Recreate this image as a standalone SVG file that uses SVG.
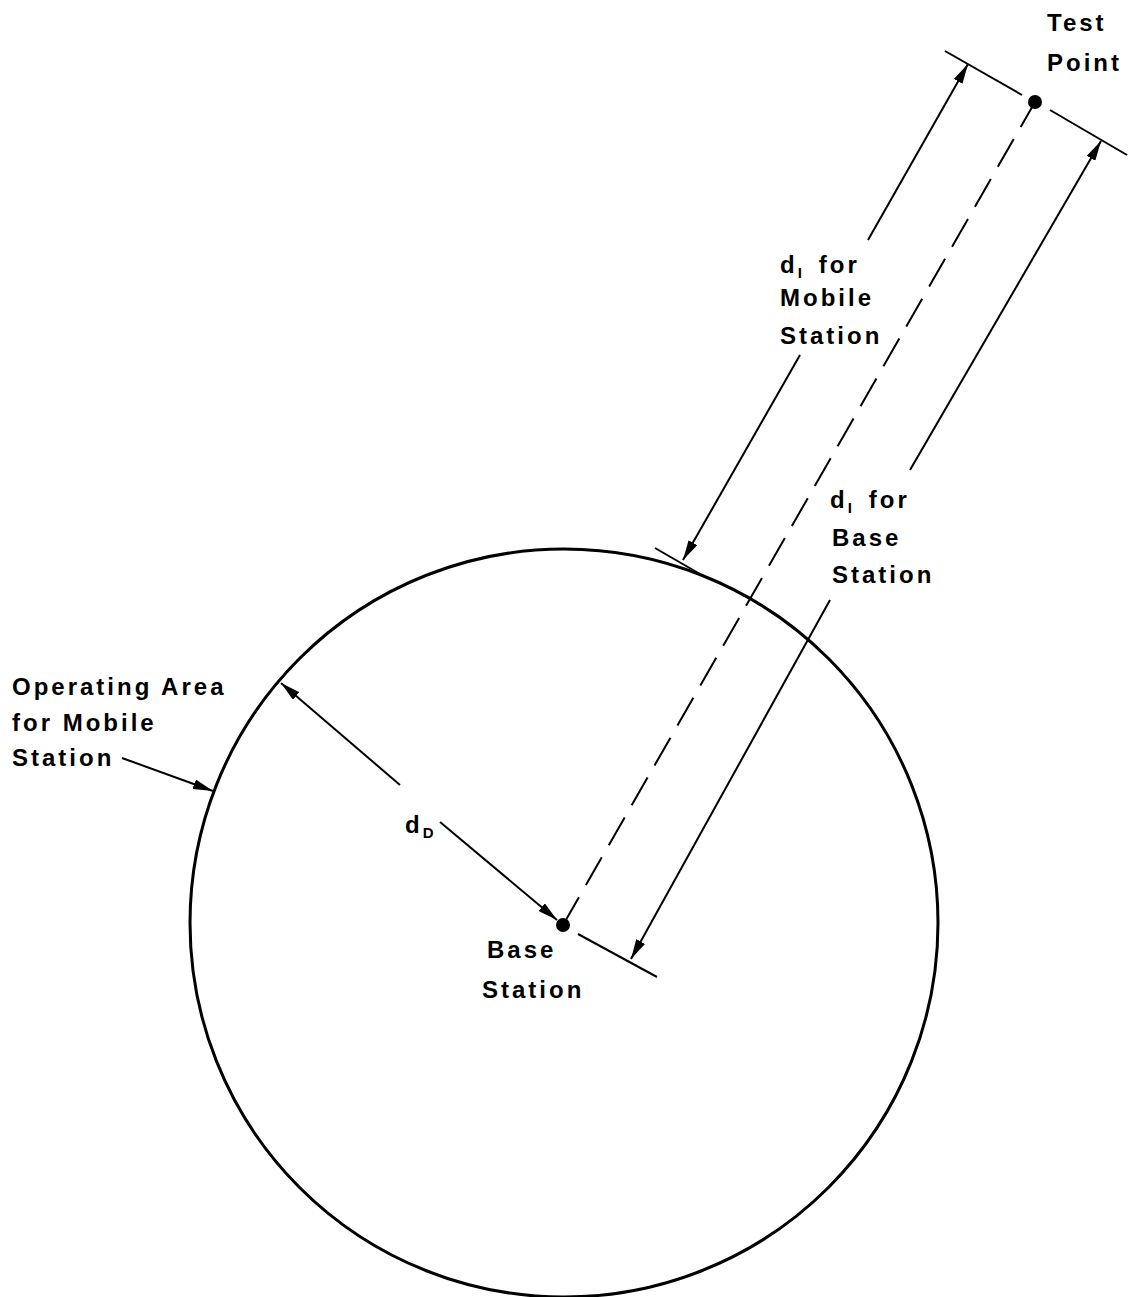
<svg xmlns="http://www.w3.org/2000/svg" width="1130" height="1297" viewBox="0 0 1130 1297">
<defs>
<marker id="ah" viewBox="0 0 20 10" refX="20" refY="5" markerWidth="20" markerHeight="10" markerUnits="userSpaceOnUse" orient="auto-start-reverse">
<path d="M0,0 L20,5 L0,10 Z" fill="#000"/>
</marker>
<style>
.t{font-family:"Liberation Sans",Arial,sans-serif;font-weight:bold;font-size:24px;letter-spacing:3px;fill:#000}
.s{font-family:"Liberation Sans",Arial,sans-serif;font-weight:bold;font-size:15px;fill:#000}
.ln{stroke:#000;stroke-width:2;fill:none}
</style>
</defs>
<rect width="1130" height="1297" fill="#fff"/>
<g id="operating-area">
<circle cx="564" cy="923" r="374" fill="none" stroke="#000" stroke-width="3"/>
<text class="t" x="12" y="695" letter-spacing="3.5">Operating Area</text>
<text class="t" x="12" y="731">for Mobile</text>
<text class="t" x="12" y="766">Station</text>
</g>
<g id="base-station">
<circle cx="563" cy="925" r="7" fill="#000"/>
<text class="t" x="487" y="958">Base</text>
<text class="t" x="482" y="998">Station</text>
</g>
<g id="test-point">
<circle cx="1035" cy="102" r="7" fill="#000"/>
<text class="t" x="1047" y="31">Test</text>
<text class="t" x="1047" y="71">Point</text>
</g>
<g id="labels">
<text class="t" x="780" y="273">d<tspan class="s" dy="5">I</tspan><tspan dy="-5" dx="14">for</tspan></text>
<text class="t" x="780" y="306">Mobile</text>
<text class="t" x="780" y="344">Station</text>
<text class="t" x="830" y="508">d<tspan class="s" dy="5">I</tspan><tspan dy="-5" dx="14">for</tspan></text>
<text class="t" x="832" y="546">Base</text>
<text class="t" x="832" y="583">Station</text>
<text class="t" x="405" y="833">d<tspan class="s" dy="5" letter-spacing="0">D</tspan></text>
</g>
<g id="connectors">
<line class="ln" x1="563" y1="925" x2="1035" y2="102" stroke-dasharray="32,14"/>
<line class="ln" x1="945" y1="51" x2="1022" y2="95"/>
<line class="ln" x1="1050" y1="110" x2="1127" y2="155"/>
<line class="ln" x1="578" y1="934" x2="657" y2="977"/>
<line class="ln" x1="655" y1="548" x2="700" y2="574"/>
<line class="ln" x1="868" y1="240" x2="968" y2="64" marker-end="url(#ah)"/>
<line class="ln" x1="800" y1="355" x2="683" y2="560" marker-end="url(#ah)"/>
<line class="ln" x1="910" y1="470" x2="1101" y2="141" marker-end="url(#ah)"/>
<line class="ln" x1="830" y1="600" x2="631" y2="959" marker-end="url(#ah)"/>
<line class="ln" x1="400" y1="785" x2="281" y2="683" marker-end="url(#ah)"/>
<line class="ln" x1="440" y1="822" x2="557" y2="920" marker-end="url(#ah)"/>
<line class="ln" x1="122" y1="758" x2="213" y2="791" marker-end="url(#ah)"/>
</g>
</svg>
